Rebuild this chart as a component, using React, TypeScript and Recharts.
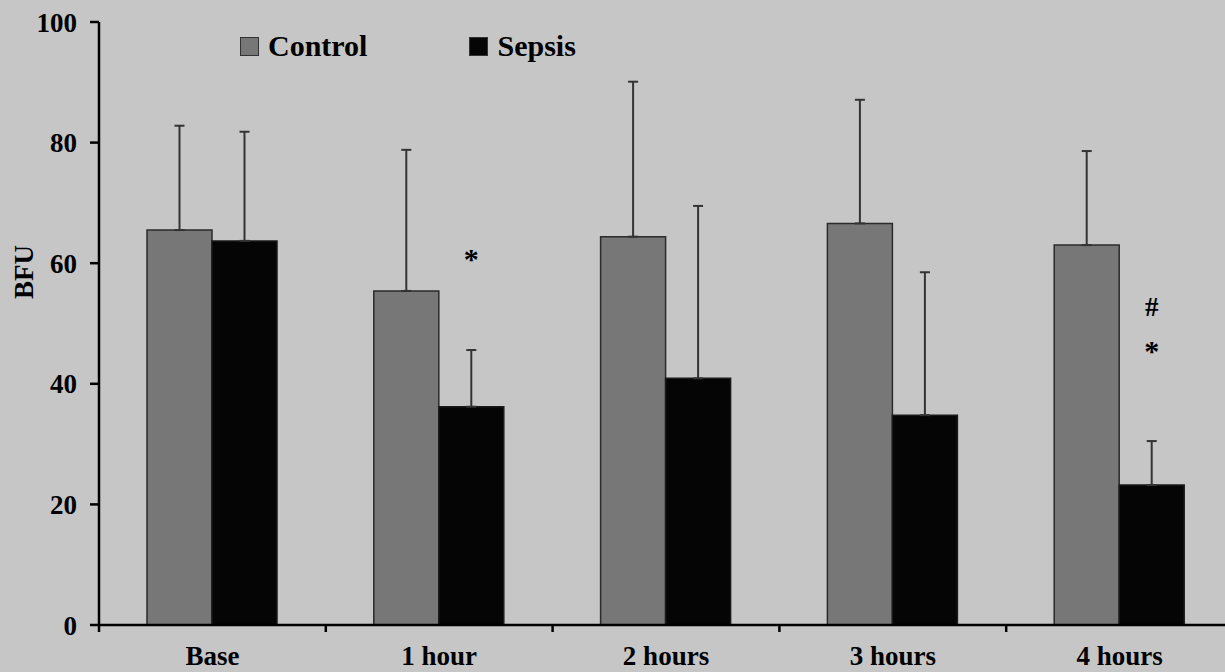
import React from 'react';
import { BarChart, Bar, XAxis, YAxis, ErrorBar, LabelList } from 'recharts';

const categories = ['Base', '1 hour', '2 hours', '3 hours', '4 hours'];
const controlMean = [65.5, 55.4, 64.4, 66.6, 63.0];
const controlSd = [17.3, 23.4, 25.7, 20.5, 15.6];
const sepsisMean = [63.7, 36.2, 40.9, 34.8, 23.2];
const sepsisSd = [18.1, 9.4, 28.6, 23.7, 7.3];
// significance marks over the sepsis bars, with the level (BFU) of the lowest mark
const sepsisMarks = ['', '*', '', '', '#*'];
const markLevel = [null, 61.7, null, null, 46.4];
const yTicks = [0, 20, 40, 60, 80, 100];

const series = [
  { key: 'control', name: 'Control', fill: '#777777' },
  { key: 'sepsis', name: 'Sepsis', fill: '#050505' },
];

const data = categories.map((name, i) => ({
  name,
  control: controlMean[i],
  controlErr: [0, controlSd[i]],
  sepsis: sepsisMean[i],
  sepsisErr: [0, sepsisSd[i]],
}));

const FONT = '"Liberation Serif", "Times New Roman", serif';
const Y_AXIS_W = 99;
const PLOT_W = 1134;
const CHART_W = Y_AXIS_W + PLOT_W;
const CHART_H = 672;

function XTick(props: any) {
  const { x, y, payload } = props;
  const band = PLOT_W / categories.length;
  return (
    <g>
      <line x1={x - band / 2} x2={x - band / 2} y1={y - 7} y2={y} stroke="#000" strokeWidth={2.5} />
      <text
        x={x}
        y={y + 33}
        textAnchor="middle"
        fontFamily={FONT}
        fontWeight="bold"
        fontSize={27}
        fill="#000"
      >
        {payload.value}
      </text>
    </g>
  );
}

function MarkLabel(props: any) {
  const { x, y, width, height, index } = props;
  const mark = sepsisMarks[index];
  const level = markLevel[index];
  if (!mark || level == null) return null;
  const unit = Number(height) / sepsisMean[index];
  const cy = Number(y) + Number(height) - level * unit;
  const cx = Number(x) + Number(width) / 2;
  const chars = mark.split('').reverse();
  return (
    <g>
      {chars.map((c, k) => {
        const center = cy - k * 38;
        const base = c === '*' ? center + 16 : center + 9;
        return (
          <text
            key={k}
            x={cx}
            y={base}
            textAnchor="middle"
            fontFamily={FONT}
            fontWeight="bold"
            fontSize={c === '*' ? 30 : 27}
            fill="#000"
          >
            {c}
          </text>
        );
      })}
    </g>
  );
}

function LegendBox() {
  return (
    <div
      style={{
        position: 'absolute',
        top: 31,
        left: 240,
        display: 'flex',
        alignItems: 'center',
        fontFamily: FONT,
      }}
    >
      {series.map((s, i) => (
        <div
          key={s.key}
          style={{ display: 'flex', alignItems: 'center', marginRight: i === 0 ? 102 : 0 }}
        >
          <span
            style={{
              width: 17,
              height: 17,
              background: s.fill,
              border: '1.5px solid #333',
              marginRight: 9,
              display: 'inline-block',
            }}
          />
          <span style={{ fontSize: 30, fontWeight: 'bold', color: '#000', lineHeight: '30px' }}>
            {s.name}
          </span>
        </div>
      ))}
    </div>
  );
}

export default function App() {
  return (
    <div
      style={{
        position: 'absolute',
        left: 0,
        top: 0,
        width: 1225,
        height: CHART_H,
        overflow: 'hidden',
        background: '#c6c6c6',
      }}
    >
      <BarChart
        width={CHART_W}
        height={CHART_H}
        data={data}
        margin={{ top: 22, right: 0, bottom: 0, left: 0 }}
        barCategoryGap={48}
        barGap={0}
      >
        <XAxis
          dataKey="name"
          height={47}
          axisLine={{ stroke: '#000', strokeWidth: 2.5 }}
          tickLine={false}
          tickSize={7}
          tickMargin={0}
          tick={<XTick />}
          interval={0}
        />
        <YAxis
          width={Y_AXIS_W}
          domain={[0, 100]}
          ticks={yTicks}
          axisLine={{ stroke: '#000', strokeWidth: 2.5 }}
          tickLine={{ stroke: '#000', strokeWidth: 2.5 }}
          tickSize={9}
          tickMargin={13}
          tick={{ fontFamily: FONT, fontWeight: 'bold', fontSize: 27, fill: '#000' }}
          label={{
            content: () => (
              <text
                x={0}
                y={0}
                transform="translate(33, 272) rotate(-90)"
                textAnchor="middle"
                fontFamily={FONT}
                fontWeight="bold"
                fontSize={27}
                fill="#000"
              >
                BFU
              </text>
            ),
          }}
        />
        <Bar
          dataKey="control"
          name="Control"
          fill="#777777"
          stroke="#2b2b2b"
          strokeWidth={1.5}
          isAnimationActive={false}
        >
          <ErrorBar dataKey="controlErr" direction="y" width={5} stroke="#333" strokeWidth={2} />
        </Bar>
        <Bar
          dataKey="sepsis"
          name="Sepsis"
          fill="#050505"
          stroke="#1a1a1a"
          strokeWidth={1.5}
          isAnimationActive={false}
        >
          <ErrorBar dataKey="sepsisErr" direction="y" width={5} stroke="#333" strokeWidth={2} />
          <LabelList dataKey="sepsis" content={<MarkLabel />} />
        </Bar>
      </BarChart>
      <LegendBox />
    </div>
  );
}
